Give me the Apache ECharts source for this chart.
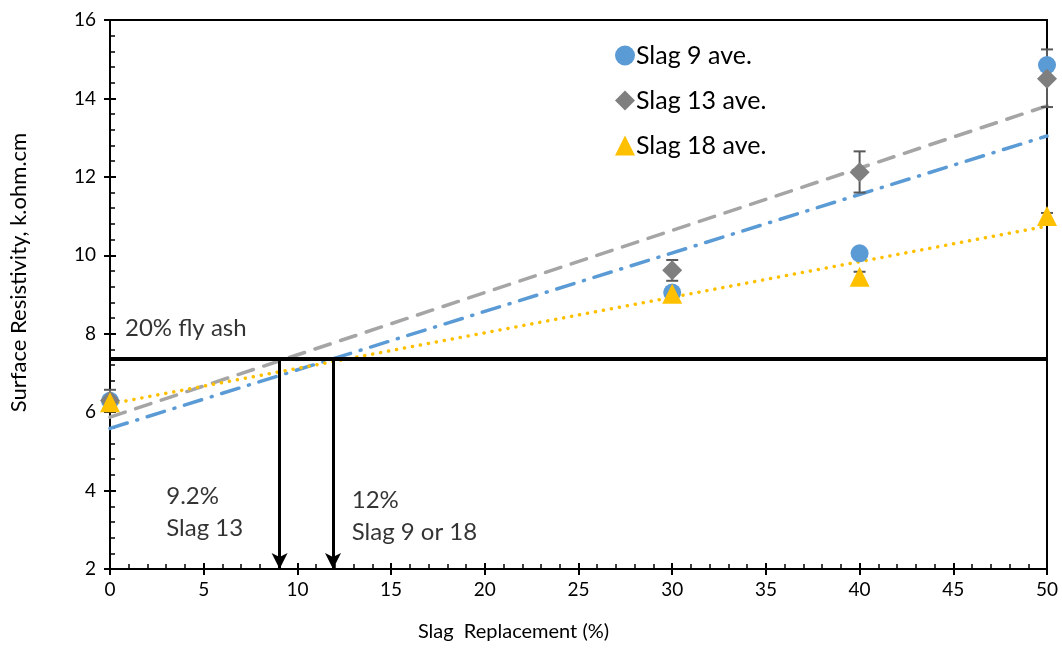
<!DOCTYPE html>
<html><head><meta charset="utf-8">
<script src="https://cdn.jsdelivr.net/npm/echarts@6/dist/echarts.min.js"></script>
<style>html,body{margin:0;padding:0;background:#fff}#c{width:1062px;height:652px}</style>
</head><body><div id="c"></div>
<script>
const xVals = [0, 30, 40, 50];
const slag9 = [6.29, 9.05, 10.05, 14.85];
const slag13 = [6.30, 9.62, 12.12, 14.50];
const slag18 = [6.25, 9.02, 9.45, 11.00];
const slag13Low = [6.02, 9.35, 11.60, 13.78];
const slag13High = [6.57, 9.88, 12.65, 15.25];
const slag18Low = [6.20, 8.98, 9.32, 10.92];
const slag18High = [6.30, 9.06, 9.58, 11.08];
const flyAshLevel = 7.35;
const arrowX = [9.05, 11.9];
const xTicks = [0, 5, 10, 15, 20, 25, 30, 35, 40, 45, 50];
const yTicks = [2, 4, 6, 8, 10, 12, 14, 16];
const legendNames = ['Slag 9 ave.', 'Slag 13 ave.', 'Slag 18 ave.'];

const FONT = 'Lato';
function fit(ys) {
  const n = xVals.length;
  const mx = xVals.reduce((a, b) => a + b, 0) / n;
  const my = ys.reduce((a, b) => a + b, 0) / n;
  let sxy = 0, sxx = 0;
  for (let i = 0; i < n; i++) { sxy += (xVals[i] - mx) * (ys[i] - my); sxx += (xVals[i] - mx) ** 2; }
  const b = sxy / sxx, a = my - b * mx;
  return [[xTicks[0], a + b * xTicks[0]], [xTicks[xTicks.length - 1], a + b * xTicks[xTicks.length - 1]]];
}
const pts = ys => xVals.map((x, i) => [x, ys[i]]);

function errSeries(low, high, color) {
  return {
    type: 'custom', z: 3, silent: true,
    data: xVals.map((x, i) => [x, low[i], high[i]]),
    renderItem: (params, api) => {
      const p1 = api.coord([api.value(0), api.value(1)]);
      const p2 = api.coord([api.value(0), api.value(2)]);
      const w = 6;
      const st = { stroke: color, lineWidth: 2 };
      return { type: 'group', children: [
        { type: 'line', shape: { x1: p1[0], y1: p1[1], x2: p2[0], y2: p2[1] }, style: st },
        { type: 'line', shape: { x1: p1[0] - w, y1: p1[1], x2: p1[0] + w, y2: p1[1] }, style: st },
        { type: 'line', shape: { x1: p2[0] - w, y1: p2[1], x2: p2[0] + w, y2: p2[1] }, style: st }
      ]};
    }
  };
}

const chart = echarts.init(document.getElementById('c'));
const axisLine = { show: true, lineStyle: { color: '#000', width: 2 } };
chart.setOption({
  animation: false,
  textStyle: { fontFamily: FONT },
  grid: { left: 108, right: 15, top: 20, bottom: 83, show: true, borderColor: '#000', borderWidth: 2 },
  legend: {
    data: legendNames.map(n => ({ name: n })),
    orient: 'vertical', left: 610, top: 38, itemGap: 20,
    itemWidth: 20, itemHeight: 20,
    textStyle: { fontFamily: FONT, fontSize: 25, lineHeight: 25, color: '#000', padding: [0, 0, 0, -4] }
  },
  xAxis: [{
    type: 'value', min: 0, max: 50, interval: 5,
    axisLine, splitLine: { show: false },
    axisTick: { show: true, inside: true, length: 6, lineStyle: { color: '#000', width: 2 } },
    minorTick: { show: true, splitNumber: 5, length: 5, lineStyle: { color: '#000', width: 1.5 } },
    axisLabel: { fontSize: 19, color: '#000', margin: 11, fontFamily: FONT },
    name: 'Slag  Replacement (%)', nameLocation: 'middle', nameGap: 53,
    nameTextStyle: { fontSize: 20, color: '#000', fontFamily: FONT, padding: [0, 130, 0, 0] }
  }, {
    type: 'value', min: 0, max: 50, interval: 5, position: 'bottom',
    axisLine: { show: false }, splitLine: { show: false }, axisLabel: { show: false },
    axisTick: { show: true, inside: false, length: 6, lineStyle: { color: '#000', width: 2 } }
  }],
  yAxis: [{
    type: 'value', min: 2, max: 16, interval: 2,
    axisLine, splitLine: { show: false },
    axisTick: { show: true, inside: true, length: 6, lineStyle: { color: '#000', width: 2 } },
    minorTick: { show: true, splitNumber: 5, length: 5, lineStyle: { color: '#000', width: 1.5 } },
    axisLabel: { fontSize: 19, color: '#000', margin: 14, fontFamily: FONT },
    name: 'Surface Resistivity, k.ohm.cm', nameLocation: 'middle', nameGap: 80,
    nameTextStyle: { fontSize: 22, color: '#000', fontFamily: FONT, padding: [0, 0, 0, 44] }
  }, {
    type: 'value', min: 2, max: 16, interval: 2, position: 'left',
    axisLine: { show: false }, splitLine: { show: false }, axisLabel: { show: false },
    axisTick: { show: true, inside: false, length: 6, lineStyle: { color: '#000', width: 2 } }
  }],
  series: [
    { name: 'trend13', type: 'line', data: fit(slag13), symbol: 'none', z: 2, silent: true,
      lineStyle: { color: '#A5A5A5', width: 3.5, type: [16, 11], cap: 'round' } },
    { name: 'trend9', type: 'line', data: fit(slag9), symbol: 'none', z: 2, silent: true,
      lineStyle: { color: '#5B9BD5', width: 3.5, type: [18, 10, 1, 10], cap: 'round' } },
    { name: 'trend18', type: 'line', data: fit(slag18), symbol: 'none', z: 2, silent: true,
      lineStyle: { color: '#FFC000', width: 3.5, type: [0.1, 8], cap: 'round' } },
    errSeries(slag13Low, slag13High, '#595959'),
    errSeries(slag18Low, slag18High, '#595959'),
    { name: legendNames[0], type: 'scatter', data: pts(slag9), symbol: 'circle', symbolSize: 18, z: 4,
      itemStyle: { color: '#5B9BD5', opacity: 1 } },
    { name: legendNames[1], type: 'scatter', data: pts(slag13), symbol: 'diamond', symbolSize: 20, z: 5,
      itemStyle: { color: '#7F7F7F', opacity: 1 } },
    { name: legendNames[2], type: 'scatter', data: pts(slag18), symbol: 'triangle', symbolSize: 20, z: 6,
      itemStyle: { color: '#FFC000', opacity: 1 } },
    { name: 'refs', type: 'line', data: [], z: 7, silent: true,
      markLine: {
        silent: true, animation: false,
        label: { show: false },
        data: [
          [{ coord: [xTicks[0], flyAshLevel], symbol: 'none', lineStyle: { color: '#000', width: 4, type: 'solid' } },
           { coord: [xTicks[xTicks.length - 1], flyAshLevel], symbol: 'none' }],
          ...arrowX.map(x => [
            { coord: [x, flyAshLevel], symbol: 'none', lineStyle: { color: '#000', width: 3, type: 'solid' } },
            { coord: [x, yTicks[0]], symbol: 'arrow', symbolSize: [12, 16] }
          ])
        ]
      } },
    { name: 'notes', type: 'scatter', symbolSize: 0, silent: true, z: 8,
      data: [
        { value: [0.8, 8.15], label: { formatter: '20% fly ash' } },
        { value: [3.0, 3.45], label: { formatter: '9.2%\nSlag 13' } },
        { value: [12.9, 3.35], label: { formatter: '12%\nSlag 9 or 18' } }
      ],
      label: { show: true, position: 'right', distance: 0, fontSize: 24, lineHeight: 32, color: '#000', fontFamily: FONT, align: 'left' } }
  ]
});
</script></body></html>
